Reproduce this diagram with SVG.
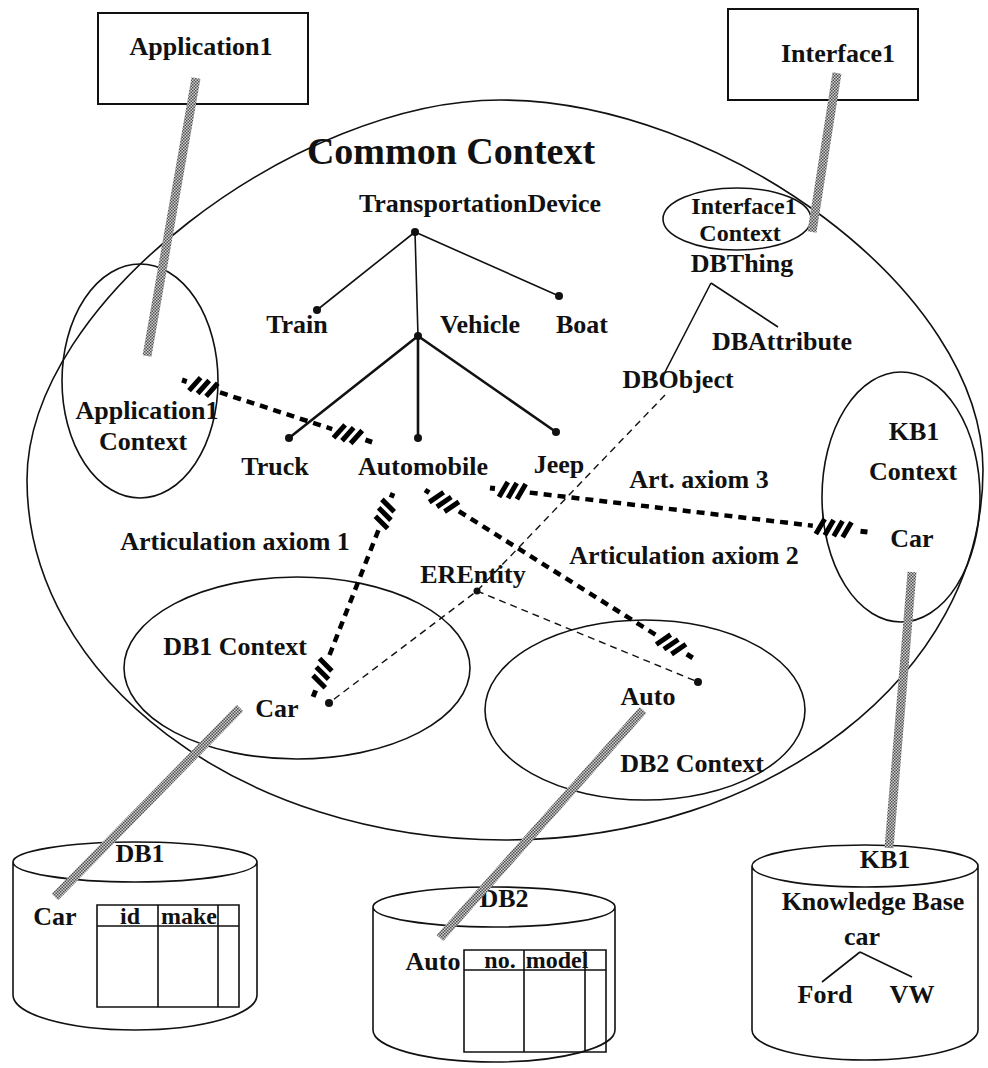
<svg xmlns="http://www.w3.org/2000/svg" width="988" height="1068" viewBox="0 0 988 1068">
<defs>
<pattern id="chk" width="3" height="3" patternUnits="userSpaceOnUse">
<rect width="3" height="3" fill="#d0d0d0"/>
<rect width="1.5" height="1.5" fill="#505050"/>
<rect x="1.5" y="1.5" width="1.5" height="1.5" fill="#505050"/>
</pattern>
<style>
.t{font-family:"Liberation Serif","Times New Roman",serif;font-weight:bold;font-size:26px;fill:#111;text-anchor:middle}
.o{fill:none;stroke:#111;stroke-width:1.6}
.box{fill:#fff;stroke:#111;stroke-width:2}
.thin{stroke:#111;stroke-width:1.6;fill:none}
.thick{stroke:#111;stroke-width:2.6;fill:none}
.dash{stroke:#111;stroke-width:1.4;stroke-dasharray:7 5;fill:none}
.dot{fill:#111}
.gray{stroke:url(#chk);stroke-width:9;fill:none}
.hd{stroke:#000;stroke-width:4.5;stroke-dasharray:8 6;fill:none}
.hb{stroke:#000;stroke-width:5;fill:none}
</style>
</defs>
<rect width="988" height="1068" fill="#fff"/>

<g id="common-context">
<path class="o" d="M27,480 C27,300 300,100 500,100 C720,100 983,290 983,470 C983,674 769,840 505,840 C241,840 27,679 27,480 Z"/>
<text class="t" x="451" y="164" style="font-size:38px">Common Context</text>
</g>

<g id="application1">
<rect class="box" x="98" y="13" width="210" height="91"/>
<text class="t" x="201" y="55">Application1</text>
</g>
<g id="interface1">
<rect class="box" x="728" y="9" width="190" height="91"/>
<text class="t" x="838" y="62">Interface1</text>
</g>

<g id="application1-context">
<ellipse class="o" cx="140" cy="381" rx="78" ry="117"/>
<text class="t" x="147" y="419">Application1</text>
<text class="t" x="143" y="450">Context</text>
</g>
<g id="interface1-context">
<ellipse class="o" cx="737" cy="219" rx="74" ry="31"/>
<text class="t" x="744" y="214" style="font-size:24px">Interface1</text>
<text class="t" x="740" y="241" style="font-size:24px">Context</text>
</g>
<g id="kb1-context">
<ellipse class="o" cx="901" cy="497" rx="79" ry="125"/>
<text class="t" x="914" y="440">KB1</text>
<text class="t" x="913" y="480">Context</text>
<text class="t" x="912" y="547">Car</text>
</g>
<g id="db1-context">
<ellipse class="o" cx="297" cy="668" rx="173" ry="91"/>
<text class="t" x="235" y="655">DB1 Context</text>
<text class="t" x="277" y="717">Car</text>
<circle class="dot" cx="329" cy="703" r="4"/>
</g>
<g id="db2-context">
<ellipse class="o" cx="645" cy="710" rx="160" ry="90"/>
<text class="t" x="648" y="705">Auto</text>
<text class="t" x="692" y="772">DB2 Context</text>
<circle class="dot" cx="698" cy="682" r="4"/>
</g>

<g id="transportation-tree">
<text class="t" x="480" y="212">TransportationDevice</text>
<path class="thin" d="M415,232 L317,310 M415,232 L559,296 M415,232 L418,336"/>
<path class="thick" d="M418,336 L289,438 M418,336 L418,438 M418,336 L556,432"/>
<circle class="dot" cx="415" cy="232" r="4"/>
<circle class="dot" cx="317" cy="310" r="4"/>
<circle class="dot" cx="559" cy="296" r="4"/>
<circle class="dot" cx="418" cy="336" r="4"/>
<circle class="dot" cx="289" cy="438" r="4"/>
<circle class="dot" cx="418" cy="438" r="4"/>
<circle class="dot" cx="556" cy="432" r="4"/>
<text class="t" x="297" y="333">Train</text>
<text class="t" x="480" y="333">Vehicle</text>
<text class="t" x="582" y="333">Boat</text>
<text class="t" x="275" y="475">Truck</text>
<text class="t" x="423" y="475">Automobile</text>
<text class="t" x="559" y="473">Jeep</text>
</g>

<g id="db-tree">
<text class="t" x="742" y="272">DBThing</text>
<path class="thin" d="M711,283 L665,372 M711,283 L778,327"/>
<text class="t" x="782" y="350">DBAttribute</text>
<text class="t" x="678" y="388">DBObject</text>
<text class="t" x="473" y="583">EREntity</text>
<circle class="dot" cx="477" cy="591" r="3.5"/>
</g>

<g id="labels">
<text class="t" x="235" y="550">Articulation axiom 1</text>
<text class="t" x="684" y="564">Articulation axiom 2</text>
<text class="t" x="699" y="488">Art. axiom 3</text>
</g>

<g id="db1">
<path class="o" d="M13,862 A122,20 0 0 1 257,862 A122,20 0 0 1 13,862 L13,995 A122,35 0 0 0 257,995 L257,862"/>
<text class="t" x="140" y="862">DB1</text>
<text class="t" x="55" y="925">Car</text>
<path class="thin" d="M97,905 H239 V1007 H97 Z M97,926 H239 M158,905 V1007 M218,905 V1007"/>
<text class="t" x="130" y="924" style="font-size:24px">id</text>
<text class="t" x="189" y="924" style="font-size:24px">make</text>
</g>
<g id="db2">
<path class="o" d="M373,907 A121,20 0 0 1 615,907 A121,20 0 0 1 373,907 L373,1030 A121,32 0 0 0 615,1030 L615,907"/>
<text class="t" x="504" y="907">DB2</text>
<text class="t" x="433" y="970">Auto</text>
<path class="thin" d="M464,950 H606 V1052 H464 Z M464,970 H606 M524,950 V1052 M585,950 V1052"/>
<text class="t" x="500" y="968" style="font-size:24px">no.</text>
<text class="t" x="557" y="968" style="font-size:24px">model</text>
</g>
<g id="kb1">
<path class="o" d="M752,866 A113,21 0 0 1 978,866 A113,21 0 0 1 752,866 L752,1030 A113,30 0 0 0 978,1030 L978,866"/>
<text class="t" x="885" y="868">KB1</text>
<text class="t" x="873" y="910">Knowledge Base</text>
<text class="t" x="862" y="945">car</text>
<path class="thin" d="M860,952 L822,982 M860,952 L912,977"/>
<text class="t" x="825" y="1003">Ford</text>
<text class="t" x="912" y="1003">VW</text>
</g>

<g id="connectors">
<path class="dash" d="M665,395 L477,591 L329,703 M477,591 L698,682"/>
<g id="axiom1a" transform="translate(182,380) rotate(18.1)">
<path class="hb" d="M0,0 H5"/>
<path class="hb" d="M10,8 L17,-8 M19,8 L26,-8 M28,8 L35,-8"/>
<path class="hd" d="M40,0 H158"/>
<path class="hb" d="M162,8 L169,-8 M171,8 L178,-8 M180,8 L187,-8"/>
<path class="hb" d="M193,0 H200"/>
</g>
<g id="axiom1b" transform="translate(393,493) rotate(111.4)">
<path class="hb" d="M0,0 H5"/>
<path class="hb" d="M10,8 L17,-8 M19,8 L26,-8 M28,8 L35,-8"/>
<path class="hd" d="M40,0 H177"/>
<path class="hb" d="M181,8 L188,-8 M190,8 L197,-8 M199,8 L206,-8"/>
<path class="hb" d="M212,0 H219"/>
</g>
<g id="axiom2" transform="translate(425,490) rotate(32.1)">
<path class="hb" d="M0,0 H5"/>
<path class="hb" d="M10,8 L17,-8 M19,8 L26,-8 M28,8 L35,-8"/>
<path class="hd" d="M40,0 H274"/>
<path class="hb" d="M278,8 L285,-8 M287,8 L294,-8 M296,8 L303,-8"/>
<path class="hb" d="M309,0 H316"/>
</g>
<g id="axiom3" transform="translate(490,488) rotate(6.66)">
<path class="hb" d="M0,0 H5"/>
<path class="hb" d="M10,8 L17,-8 M19,8 L26,-8 M28,8 L35,-8"/>
<path class="hd" d="M40,0 H325"/>
<path class="hb" d="M329,8 L336,-8 M338,8 L345,-8 M347,8 L354,-8 M356,8 L363,-8"/>
<path class="hb" d="M373,0 H380"/>
</g>
<path class="gray" d="M196,78 L147,356"/>
<path class="gray" d="M837,73 L812,232"/>
<path class="gray" d="M912,572 L889,848"/>
<path class="gray" d="M240,708 L55,897"/>
<path class="gray" d="M643,710 L440,938"/>
</g>
</svg>
